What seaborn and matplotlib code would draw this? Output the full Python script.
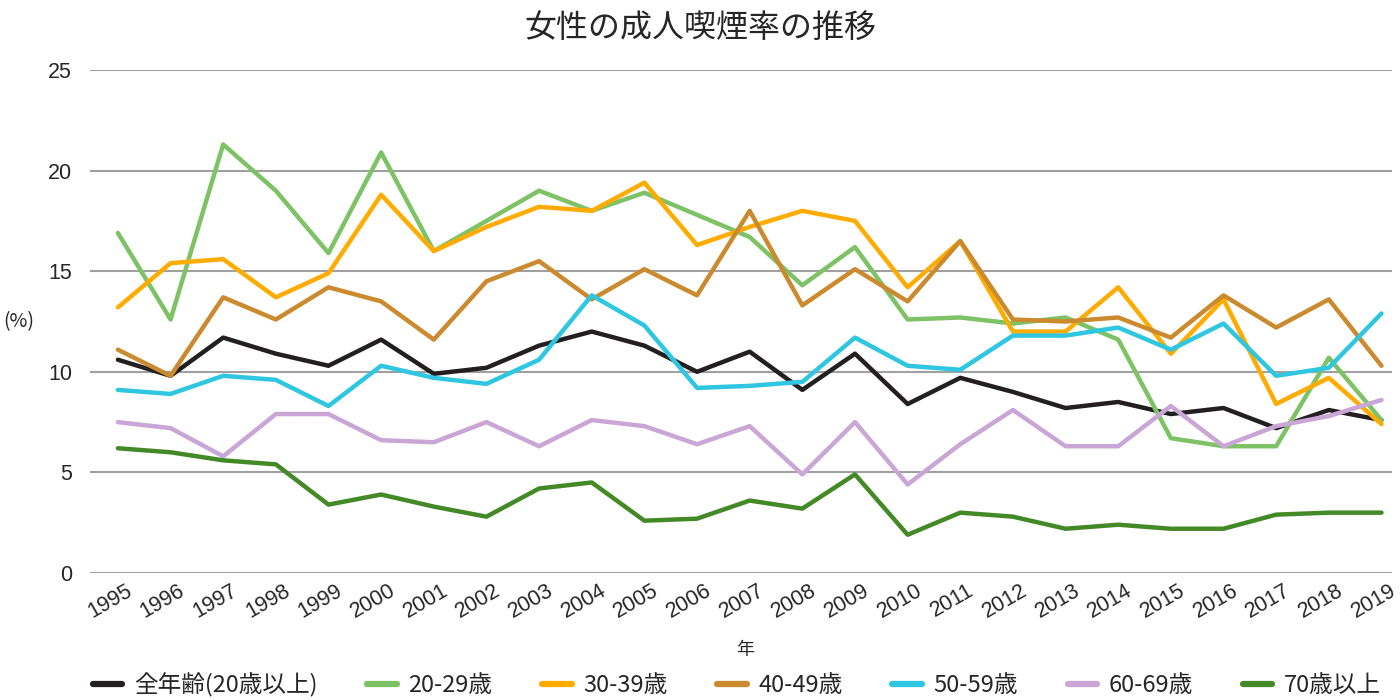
import numpy as np
import matplotlib
matplotlib.use("Agg")
import matplotlib.pyplot as plt
import matplotlib.transforms as mtrans
import pandas as pd
import seaborn as sns

years = list(range(1995, 2020))

all_ages = [10.6, 9.8, 11.7, 10.9, 10.3, 11.6, 9.9, 10.2, 11.3, 12.0, 11.3, 10.0, 11.0,
            9.1, 10.9, 8.4, 9.7, 9.0, 8.2, 8.5, 7.9, 8.2, 7.2, 8.1, 7.6]
age20 = [16.9, 12.6, 21.3, 19.0, 15.9, 20.9, 16.0, 17.5, 19.0, 18.0, 18.9, 17.8, 16.7,
         14.3, 16.2, 12.6, 12.7, 12.4, 12.7, 11.6, 6.7, 6.3, 6.3, 10.7, 7.6]
age30 = [13.2, 15.4, 15.6, 13.7, 14.9, 18.8, 16.0, 17.2, 18.2, 18.0, 19.4, 16.3, 17.2,
         18.0, 17.5, 14.2, 16.5, 12.0, 12.0, 14.2, 10.9, 13.6, 8.4, 9.7, 7.4]
age40 = [11.1, 9.8, 13.7, 12.6, 14.2, 13.5, 11.6, 14.5, 15.5, 13.6, 15.1, 13.8, 18.0,
         13.3, 15.1, 13.5, 16.5, 12.6, 12.5, 12.7, 11.7, 13.8, 12.2, 13.6, 10.3]
age50 = [9.1, 8.9, 9.8, 9.6, 8.3, 10.3, 9.7, 9.4, 10.6, 13.8, 12.3, 9.2, 9.3,
         9.5, 11.7, 10.3, 10.1, 11.8, 11.8, 12.2, 11.1, 12.4, 9.8, 10.2, 12.9]
age60 = [7.5, 7.2, 5.8, 7.9, 7.9, 6.6, 6.5, 7.5, 6.3, 7.6, 7.3, 6.4, 7.3,
         4.9, 7.5, 4.4, 6.4, 8.1, 6.3, 6.3, 8.3, 6.3, 7.3, 7.8, 8.6]
age70 = [6.2, 6.0, 5.6, 5.4, 3.4, 3.9, 3.3, 2.8, 4.2, 4.5, 2.6, 2.7, 3.6,
         3.2, 4.9, 1.9, 3.0, 2.8, 2.2, 2.4, 2.2, 2.2, 2.9, 3.0, 3.0]

labels = ["全年齢(20歳以上)", "20-29歳", "30-39歳", "40-49歳", "50-59歳", "60-69歳", "70歳以上"]
colors = ["#231f20", "#7dc366", "#ffab00", "#cc8a2e", "#2ec6e0", "#c9a6d6", "#438a27"]

series = [all_ages, age20, age30, age40, age50, age60, age70]
df = pd.concat([pd.DataFrame({"年": years, "率": vals, "区分": lab})
                for lab, vals in zip(labels, series)], ignore_index=True)

sns.set_theme(style="white")
plt.rcParams['font.family'] = ['Noto Sans CJK JP', 'DejaVu Sans']

fig, ax = plt.subplots(figsize=(14, 7), dpi=100)
fig.subplots_adjust(left=90/1400, right=1392/1400, top=1-70/700, bottom=1-573/700)

sns.lineplot(data=df, x="年", y="率", hue="区分", hue_order=labels,
             palette=colors, linewidth=3.2, ax=ax, legend=True)

ax.set_xlim(1994.47, 2019.2)
ax.set_ylim(0, 25)
ax.set_yticks([0, 5, 10, 15, 20, 25])
ax.set_xticks(years)
ax.set_xticklabels([str(y) for y in years], rotation=30, ha="center",
                   family=["Liberation Sans", "DejaVu Sans"], fontsize=15.5)
ax.set_yticklabels(["0", "5", "10", "15", "20", "25"], fontsize=15.5,
                   family=["Liberation Sans", "DejaVu Sans"])
ax.tick_params(axis="both", length=0)
ax.tick_params(axis="y", pad=13)
ax.tick_params(axis="x", pad=5)
shift = mtrans.ScaledTranslation(-8/100, 0, fig.dpi_scale_trans)
for lbl in ax.get_xticklabels():
    lbl.set_transform(lbl.get_transform() + shift)
ax.yaxis.grid(True, color="#a0a0a0", linewidth=1.5)
ax.set_axisbelow(True)
for s in ax.spines.values():
    s.set_visible(False)

ax.set_ylabel("")
ax.set_xlabel("")
fig.text(745/1400, 1-650/700, "年", fontsize=13, ha="center", va="center")
fig.suptitle("女性の成人喫煙率の推移", fontsize=23, x=0.5, y=1-28/700, va="center")
fig.text(3/1400, 1-322/700, "(%)", fontsize=14, va="center", ha="left")

leg = ax.legend(loc="center", bbox_to_anchor=((737 - 90)/1302, (573-685)/503),
                ncol=7, frameon=False, fontsize=17, handlelength=1.25,
                columnspacing=2.1, handletextpad=0.5)
for h in leg.get_lines():
    h.set_linewidth(4.5)

fig.savefig("out.png", dpi=100, facecolor="white")
